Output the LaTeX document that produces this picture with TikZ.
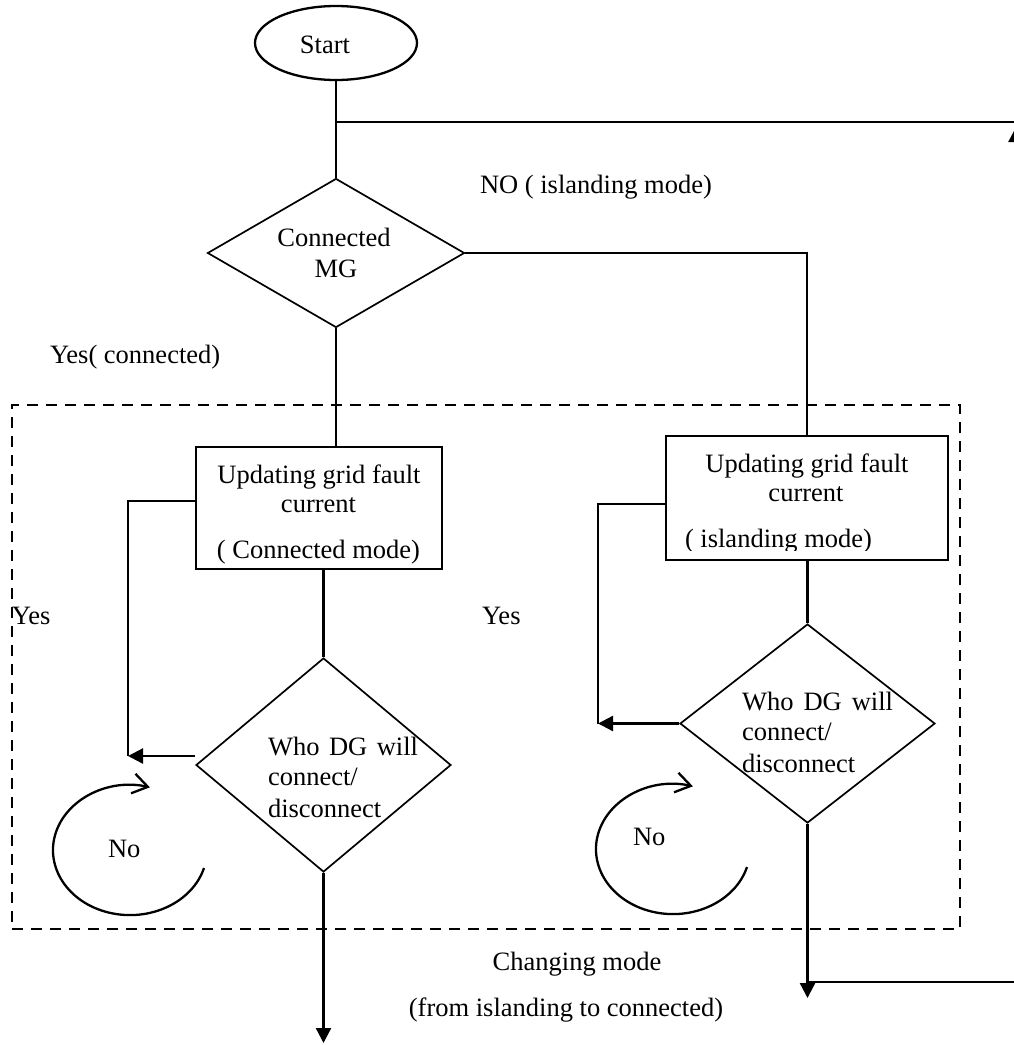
\documentclass[tikz,border=0pt]{standalone}
\usepackage{fontspec}
\setmainfont{Liberation Serif}
\usetikzlibrary{shapes.geometric,arrows.meta,calc}
\begin{document}
\begin{tikzpicture}[x=1pt,y=-1pt,
  every node/.style={font=\fontsize{26.5}{30}\selectfont},
  conn/.style={line width=2.3pt},
  arr/.style={conn,-{Triangle[length=15pt,width=15pt]}},
  procbox/.style={draw,line width=2.3pt,inner sep=0pt},
  decision/.style={draw,diamond,line width=1.7pt,inner sep=0pt},
  loopar/.style={line width=2.3pt,-{Straight Barb[length=15pt,width=20pt]}},
  txt/.style={inner sep=0pt,outer sep=0pt},
  framebox/.style={draw,line width=2pt,dash pattern=on 11pt off 8pt,inner sep=0pt}
]
\useasboundingbox (0,0) rectangle (1014,1045);

% frame
\node[framebox,minimum width=948pt,minimum height=524pt] (frame) at (486,667) {};

% shapes
\node[draw,ellipse,line width=2.3pt,minimum width=162pt,minimum height=74pt,inner sep=0pt] (start) at (336,43) {};
\node[txt,anchor=base] (starttxt) at (325,53) {Start};

\node[decision,minimum width=257pt,minimum height=149pt] (mg) at (336,253) {};
\node[txt,anchor=base] (mgt1) at (334,246) {Connected};
\node[txt,anchor=base] (mgt2) at (336,277) {MG};

\node[procbox,minimum width=246pt,minimum height=122pt] (r1) at (319,508) {};
\node[txt,anchor=base] (r1t1) at (319,483) {Updating grid fault};
\node[txt,anchor=base] (r1t2) at (318.5,512) {current};
\node[txt,anchor=base] (r1t3) at (318.5,558) {( Connected mode)};

\node[procbox,minimum width=282pt,minimum height=124pt] (r2) at (807,498) {};
\node[txt,anchor=base] (r2t1) at (807,472) {Updating grid fault};
\node[txt,anchor=base] (r2t2) at (806,501) {current};
\begin{scope}
\clip (666,436) rectangle (948,550);
\node[txt,anchor=base west] (r2t3) at (685,547) {( islanding mode)};
\end{scope}

\node[decision,minimum width=255pt,minimum height=214pt] (d1) at (323.5,765) {};
\node[txt,anchor=base west] (d1t1) at (268,755) {\makebox[150pt][s]{Who DG will}};
\node[txt,anchor=base west] (d1t2) at (268,785) {connect/};
\node[txt,anchor=base west] (d1t3) at (268,817) {disconnect};

\node[decision,minimum width=255pt,minimum height=199pt] (d2) at (807.5,723.5) {};
\node[txt,anchor=base west] (d2t1) at (742,710) {\makebox[151pt][s]{Who DG will}};
\node[txt,anchor=base west] (d2t2) at (742,740) {connect/};
\node[txt,anchor=base west] (d2t3) at (742,772) {disconnect};

% labels
\node[txt,anchor=base west] (lno) at (480,193) {NO ( islanding mode)};
\node[txt,anchor=base west] (lyesc) at (50,363) {Yes( connected)};
\node[txt,anchor=base west] (lyes1) at (12,624) {Yes};
\node[txt,anchor=base west] (lyes2) at (482,624) {Yes};
\node[txt,anchor=base west] (lno1) at (108,857) {No};
\node[txt,anchor=base west] (lno2) at (633,845) {No};
\node[txt,anchor=base] (lchg) at (577,970) {Changing mode};
\node[txt,anchor=base] (lfrom) at (566,1016) {(from islanding to connected)};

% coordinates
\coordinate (b1) at (1016,122);
\coordinate (j1) at (128,756);
\coordinate (j2) at (598,723.5);
\coordinate (e1) at (326,1043);
\coordinate (e2) at (808,998);
\coordinate (k1) at (808,982);
\coordinate (k2) at (1016,982);
\coordinate (k3) at (1016,127);

% connectors
\draw[conn] (start.south) -- (mg.north);
\draw[conn] (start.south |- b1) -- (b1);
\draw[conn] (mg.east) -| (r2.north);
\draw[conn] (mg.south) -- (mg.south |- r1.north);
\draw[conn] ([yshift=7pt]r1.west) -| (j1);
\draw[arr] ([yshift=9pt]d1.west) -- (j1);
\draw[conn] (r1.south -| d1.north) -- (d1.north);
\draw[arr] (d1.south) -- (d1.south |- e1);
\draw[conn] ([yshift=-6pt]r2.west) -| (j2);
\draw[arr] (d2.west) -- (j2);
\draw[conn] (r2.south -| d2.north) -- (d2.north);
\draw[arr] (d2.south) -- (d2.south |- e2);
\draw[conn] (d2.south |- k1) -- (k2);
\draw[arr] (k2) -- (k3);

% loops
\draw[loopar] (204,868) arc[start angle=16,end angle=285,x radius=77,y radius=65];
\draw[loopar] (747,867) arc[start angle=16,end angle=285,x radius=77,y radius=65];
\end{tikzpicture}
\end{document}
